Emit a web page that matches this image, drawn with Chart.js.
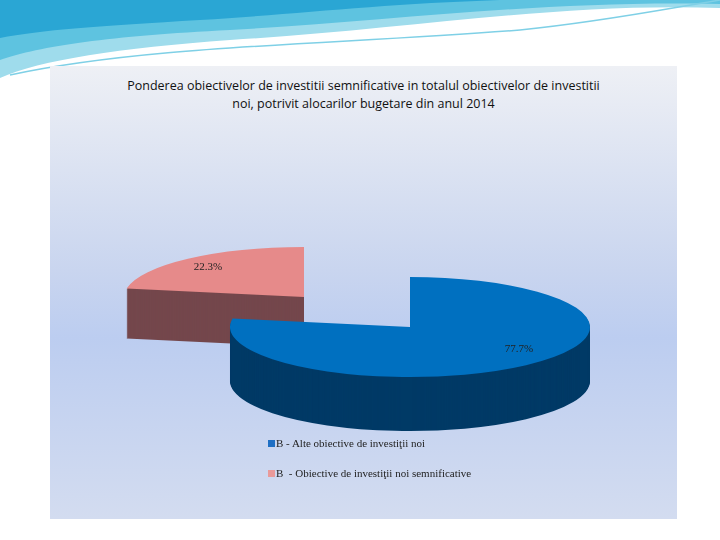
<!DOCTYPE html>
<html><head><meta charset="utf-8">
<script src="https://cdn.jsdelivr.net/npm/chart.js@4"></script>
<style>
  html,body{margin:0;width:720px;height:540px;overflow:hidden;background:#fff;font-family:"Liberation Serif",serif}
  #swoosh{position:absolute;left:0;top:0;width:720px;height:80px}
  #panel{position:absolute;left:50px;top:66px;width:627px;height:453px;
    background:linear-gradient(#eef0f5 0%,#c9d5ef 45%,#bccdf0 60%,#d3dcf0 100%)}
  #title{position:absolute;left:50px;top:77px;width:627px;text-align:center;
    font-family:"Open Sans","DejaVu Sans",sans-serif;font-size:12.5px;line-height:18px;color:#111}
  canvas{position:absolute;left:0;top:0}
  .lg{position:absolute;left:268px;font-size:11px;color:#222}
  .lg i{display:inline-block;width:7px;height:7px;margin-right:1px}
</style></head>
<body>
<svg id="swoosh" viewBox="0 0 720 80">
  <path d="M0 0 H720 V8 C560 2 400 30 230 40 C120 48 40 60 0 78 Z" fill="#9fdcec"/>
  <path d="M0 0 H720 V4 C540 0 380 22 230 30 C110 36 40 46 0 60 Z" fill="#5ec3e0"/>
  <path d="M0 0 H500 C380 4 300 14 200 20 C100 26 40 30 0 38 Z" fill="#2aa6d4"/>
  <path d="M10 75 C150 45 330 45 520 30 C600 22 660 10 720 0" stroke="#7fd0e6" stroke-width="1.5" fill="none"/>
</svg>
<div id="panel"></div>
<div id="title">Ponderea obiectivelor de investitii semnificative in totalul obiectivelor de investitii<br>noi, potrivit alocarilor bugetare din anul 2014</div>
<canvas id="c" width="720" height="540"></canvas>
<div class="lg" style="top:437px"><i style="background:#1f6fc4"></i>B - Alte obiective de investiţii noi</div>
<div class="lg" style="top:467px"><i style="background:#e99a9a"></i>B &nbsp;- Obiective de investiţii noi semnificative</div>
<script>
const labels = ["B - Alte obiective de investiţii noi", "B - Obiective de investiţii noi semnificative"];
const values = [77.7, 22.3];
const topColors = ["#0070c0", "#e68a8a"];
const sideColors = ["#003a66", "#74474c"];

// 3d look: squashed ellipse, extruded sides, pink slice pulled out
const CX = 410, CY = 327, RX = 180, RY = 50;
const depths = [54, 50];
const pull = [[0, 0], [-106, -30]];
const labelShift = [[51, 3], [-38, -11]];

const pie3d = {
  id: "pie3d",
  beforeDatasetsDraw(chart) {
    const ctx = chart.ctx;
    const arcs = chart.getDatasetMeta(0).data;
    const r = arcs[0].outerRadius, ox = arcs[0].x, oy = arcs[0].y;
    const sx = RX / r, sy = RY / r;
    const paint = (a, i, d, col) => {
      ctx.save();
      ctx.translate(CX + pull[i][0], CY + pull[i][1] + d);
      ctx.scale(sx, sy);
      ctx.translate(-ox, -oy);
      a.options.backgroundColor = col;
      a.options.borderWidth = 0;
      a.draw(ctx);
      ctx.restore();
    };
    [1, 0].forEach((i) => {
      for (let d = depths[i]; d >= 1; d--) paint(arcs[i], i, d, sideColors[i]);
      paint(arcs[i], i, 0, topColors[i]);
    });
    ctx.save();
    ctx.font = "11px 'Liberation Serif', serif";
    ctx.fillStyle = "#222";
    ctx.textAlign = "center";
    ctx.textBaseline = "middle";
    arcs.forEach((a, i) => {
      const p = a.tooltipPosition();
      const x = CX + pull[i][0] + (p.x - ox) * sx + labelShift[i][0];
      const y = CY + pull[i][1] + (p.y - oy) * sy + labelShift[i][1];
      ctx.fillText(values[i].toFixed(1) + "%", x, y);
    });
    ctx.restore();
    return false;
  }
};

new Chart(document.getElementById("c"), {
  type: "pie",
  data: { labels, datasets: [{ data: values, backgroundColor: topColors, borderWidth: 0 }] },
  options: {
    responsive: false, animation: false,
    plugins: { legend: { display: false }, tooltip: { enabled: false } }
  },
  plugins: [pie3d]
});
</script>
</body></html>
